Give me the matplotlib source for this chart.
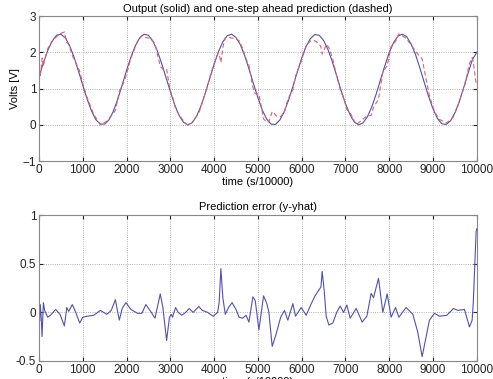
import numpy as np
import matplotlib
matplotlib.use('Agg')
import matplotlib.pyplot as plt

t_out = np.arange(0, 10001, 100)
y_out = [1.32, 1.71, 2.05, 2.31, 2.47, 2.50, 2.40, 2.18, 1.87, 1.49,
         1.09, 0.71, 0.38, 0.14, 0.02, 0.02, 0.14, 0.38, 0.71, 1.10,
         1.50, 1.87, 2.18, 2.40, 2.50, 2.47, 2.31, 2.05, 1.70, 1.31,
         0.92, 0.55, 0.26, 0.07, 0.00, 0.06, 0.24, 0.52, 0.88, 1.28,
         1.67, 2.02, 2.29, 2.46, 2.50, 2.41, 2.21, 1.90, 1.53, 1.13,
         0.75, 0.41, 0.16, 0.02, 0.01, 0.13, 0.36, 0.68, 1.06, 1.46,
         1.84, 2.16, 2.38, 2.49, 2.47, 2.33, 2.08, 1.74, 1.35, 0.95,
         0.59, 0.29, 0.08, 0.00, 0.05, 0.22, 0.49, 0.84, 1.24, 1.63,
         1.99, 2.27, 2.45, 2.50, 2.43, 2.23, 1.94, 1.57, 1.17, 0.78,
         0.44, 0.18, 0.03, 0.01, 0.11, 0.33, 0.64, 1.02, 1.42, 1.80,
         2.00]

# prediction error y - yhat
t_err = [0, 15, 30, 50, 70, 100, 130, 200, 260, 380, 480, 580, 635, 680, 760,
         840, 930, 1000, 1100, 1250, 1400, 1550, 1650, 1745, 1790, 1835, 1900,
         1985, 2100, 2250, 2350, 2440, 2550, 2650, 2770, 2830, 2915, 2980, 3020,
         3050, 3120, 3180, 3260, 3350, 3430, 3520, 3650, 3730, 3850, 3980, 4080,
         4115, 4155, 4200, 4255, 4330, 4410, 4500, 4570, 4650, 4730, 4795, 4886,
         4940, 5023, 5130, 5205, 5251, 5327, 5418, 5520, 5608, 5684, 5799, 5860,
         5989, 6103, 6200, 6294, 6393, 6440, 6468, 6514, 6560, 6621, 6712, 6800,
         6880, 6956, 7032, 7108, 7245, 7382, 7489, 7587, 7641, 7755, 7854, 7953,
         8044, 8143, 8219, 8386, 8539, 8650, 8752, 8919, 9033, 9148, 9315, 9467,
         9566, 9718, 9833, 9894, 9920, 9960, 9985, 10000]
e = [-0.05, -0.09, 0.08, -0.05, -0.25, 0.10, 0.02, -0.05, -0.03, 0.03, -0.02,
     -0.14, 0.05, 0.01, 0.08, 0.00, -0.11, -0.05, -0.04, -0.03, 0.02, -0.02,
     0.02, 0.13, 0.02, -0.08, 0.04, 0.10, 0.03, -0.01, -0.01, 0.08, 0.01,
     -0.06, 0.19, 0.05, -0.29, -0.05, -0.02, -0.05, 0.05, 0.00, -0.03, 0.00,
     0.04, 0.00, 0.06, 0.02, 0.00, -0.04, 0.00, 0.10, 0.45, 0.15, -0.02, 0.05,
     0.10, 0.03, -0.05, -0.06, -0.03, -0.10, 0.16, 0.12, -0.18, 0.17, 0.09,
     0.00, -0.35, -0.22, -0.05, 0.02, -0.08, 0.09, -0.04, 0.05, -0.03, 0.07,
     0.16, 0.23, 0.26, 0.42, 0.23, -0.04, -0.13, -0.11, 0.00, 0.065, 0.00,
     0.075, -0.06, 0.04, -0.10, -0.04, 0.195, 0.15, 0.35, 0.00, 0.19, -0.05,
     0.05, -0.05, 0.05, -0.02, -0.20, -0.455, -0.08, -0.01, -0.04, -0.03, 0.04,
     0.02, 0.03, -0.15, -0.08, 0.10, 0.55, 0.83, 0.86]

# one-step ahead prediction = output - error
yhat = np.interp(t_err, t_out, y_out) - np.array(e)

plt.rcParams['font.family'] = ['Liberation Sans', 'DejaVu Sans']

fig = plt.figure(figsize=(4.93, 3.79), dpi=100)
ax1 = fig.add_axes([0.0791, 0.575, 0.888, 0.3826])
ax2 = fig.add_axes([0.0791, 0.0475, 0.888, 0.385])

ax1.plot(t_out, y_out, color='#5050a8', lw=0.8)
ax1.plot(t_err, yhat, color='#dc6070', lw=0.8, ls='--', dashes=(4, 2.5))
ax1.set_xlim(0, 10000)
ax1.set_ylim(-1, 3)
ax1.set_yticks([-1, 0, 1, 2, 3])
ax1.set_title('Output (solid) and one-step ahead prediction (dashed)', fontsize=8, pad=3)
ax1.set_xlabel('time (s/10000)', fontsize=8, labelpad=1)
ax1.set_ylabel('Volts [V]', fontsize=8, labelpad=2)

ax2.plot(t_err, e, color='#5252ac', lw=0.8)
ax2.set_xlim(0, 10000)
ax2.set_ylim(-0.5, 1)
ax2.set_yticks([-0.5, 0, 0.5, 1])
ax2.set_yticklabels(['-0.5', '0', '0.5', '1'])
ax2.set_title('Prediction error (y-yhat)', fontsize=8, pad=4)
# the lower axis label sits at the very bottom edge, partly cut as in the original
ax2.set_xlabel('time (s/10000)', fontsize=8, labelpad=1)

for ax in (ax1, ax2):
    ax.set_xticks(range(0, 10001, 1000))
    ax.tick_params(direction='in', top=True, right=True, length=3,
                   labelsize=8.5, pad=2, colors='#222222')
    ax.grid(True, ls=':', color='#999999', lw=0.6)
    for s in ax.spines.values():
        s.set_color('#888888')
        s.set_linewidth(0.8)

fig.savefig('out.png', dpi=100)
